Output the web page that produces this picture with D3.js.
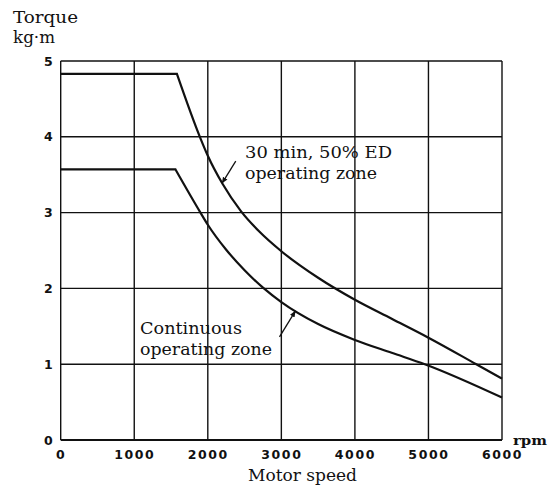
<!DOCTYPE html>
<html>
<head>
<meta charset="utf-8">
<script src="https://cdn.jsdelivr.net/npm/d3@7"></script>
<style>
  html, body { margin: 0; padding: 0; background: #fff; }
  svg { display: block; }
</style>
</head>
<body>
<svg id="chart" width="559" height="495"></svg>
<script>
// ---- data ----
const speedTicks = [0, 1000, 2000, 3000, 4000, 5000, 6000];
const torqueTicks = [0, 1, 2, 3, 4, 5];

const shortTimeSpeed  = [0,    1580, 1900, 2000, 2200, 2450, 2700, 3000, 3500, 4000, 4500, 5000, 5650, 6000];
const shortTimeTorque = [4.83, 4.83, 3.98, 3.75, 3.38, 3.02, 2.75, 2.49, 2.14, 1.85, 1.60, 1.35, 1.00, 0.81];

const continuousSpeed  = [0,    1560, 1900, 2000, 2250, 2500, 2750, 3000, 3500, 4000, 4500, 4950, 6000];
const continuousTorque = [3.57, 3.57, 3.00, 2.84, 2.51, 2.24, 2.01, 1.82, 1.53, 1.32, 1.15, 1.00, 0.56];

const shortTimeLabel = ["30 min, 50% ED", "operating zone"];
const continuousLabel = ["Continuous", "operating zone"];
const yTitle = ["Torque", "kg\u00b7m"];
const xTitle = "Motor speed";
const xUnit = "rpm";

// ---- layout ----
const svg = d3.select("#chart");
const x = d3.scaleLinear().domain([0, 6000]).range([60.7, 502]);
const y = d3.scaleLinear().domain([0, 5]).range([440, 61]);
const ink = "#111";

// grid
const g = svg.append("g");
g.selectAll("line.v").data(speedTicks).enter().append("line")
  .attr("x1", d => x(d)).attr("x2", d => x(d))
  .attr("y1", y(5)).attr("y2", y(0))
  .attr("stroke", ink).attr("stroke-width", 1.4);
g.selectAll("line.h").data(torqueTicks).enter().append("line")
  .attr("y1", d => y(d)).attr("y2", d => y(d))
  .attr("x1", x(0)).attr("x2", x(6000))
  .attr("stroke", ink).attr("stroke-width", d => d === 0 ? 2.2 : 1.4);

// axes labels via d3 axes (lines hidden)
const xAxis = svg.append("g").attr("transform", `translate(0,${y(0)})`)
  .call(d3.axisBottom(x).tickValues(speedTicks).tickSize(0).tickPadding(10).tickFormat(d3.format("d")));
xAxis.select(".domain").remove();
xAxis.selectAll("text")
  .attr("font-family", "DejaVu Sans").attr("font-weight", "bold")
  .attr("font-size", 12.5).attr("letter-spacing", 1.6).attr("fill", ink);

const yAxis = svg.append("g").attr("transform", `translate(${x(0)},0)`)
  .call(d3.axisLeft(y).tickValues(torqueTicks).tickSize(0).tickPadding(8).tickFormat(d3.format("d")));
yAxis.select(".domain").remove();
yAxis.selectAll("text")
  .attr("font-family", "DejaVu Sans").attr("font-weight", "bold")
  .attr("font-size", 12.5).attr("fill", ink);

// curves: flat segment then smooth monotone falloff
function drawCurve(sp, tq) {
  const pts = sp.map((s, i) => [s, tq[i]]);
  const flat = d3.line().x(d => x(d[0])).y(d => y(d[1]))(pts.slice(0, 2));
  const curve = d3.line().x(d => x(d[0])).y(d => y(d[1]))
    .curve(d3.curveMonotoneX)(pts.slice(1));
  svg.append("path").attr("d", flat + curve.replace(/^M/, "L"))
    .attr("fill", "none").attr("stroke", ink).attr("stroke-width", 2.2)
    .attr("stroke-linejoin", "miter");
}
drawCurve(shortTimeSpeed, shortTimeTorque);
drawCurve(continuousSpeed, continuousTorque);

// arrow marker
svg.append("defs").append("marker")
  .attr("id", "arr").attr("viewBox", "0 0 10 10").attr("refX", 9).attr("refY", 5)
  .attr("markerWidth", 5).attr("markerHeight", 5).attr("orient", "auto")
  .append("path").attr("d", "M0,1 L10,5 L0,9 Z").attr("fill", ink);

// leaders
const leaders = [
  { from: [2380, 3.68], to: [2195, 3.39] },
  { from: [2975, 1.36], to: [3190, 1.70] }
];
svg.selectAll("line.leader").data(leaders).enter().append("line")
  .attr("x1", d => x(d.from[0])).attr("y1", d => y(d.from[1]))
  .attr("x2", d => x(d.to[0])).attr("y2", d => y(d.to[1]))
  .attr("stroke", ink).attr("stroke-width", 1.3).attr("marker-end", "url(#arr)");

// text helper
function txt(s, px, py, size, width, opts = {}) {
  const t = svg.append("text").attr("x", px).attr("y", py)
    .attr("font-family", opts.family || "DejaVu Serif")
    .attr("font-size", size).attr("fill", ink)
    .attr("font-weight", opts.weight || "normal")
    .text(s);
  if (width) t.attr("textLength", width).attr("lengthAdjust", "spacingAndGlyphs");
  return t;
}

txt(yTitle[0], 13, 23, 16, 65);
txt(yTitle[1], 13, 43, 16, 42);

txt(shortTimeLabel[0], 245, 158, 16, 147);
txt(shortTimeLabel[1], 245, 179, 16, 132);
txt(continuousLabel[0], 140, 334, 16, 102);
txt(continuousLabel[1], 140, 355, 16, 132);

txt(xTitle, 248, 481, 16, 109);
txt(xUnit, 513, 445, 13, 34, { weight: "bold" });
</script>
</body>
</html>
